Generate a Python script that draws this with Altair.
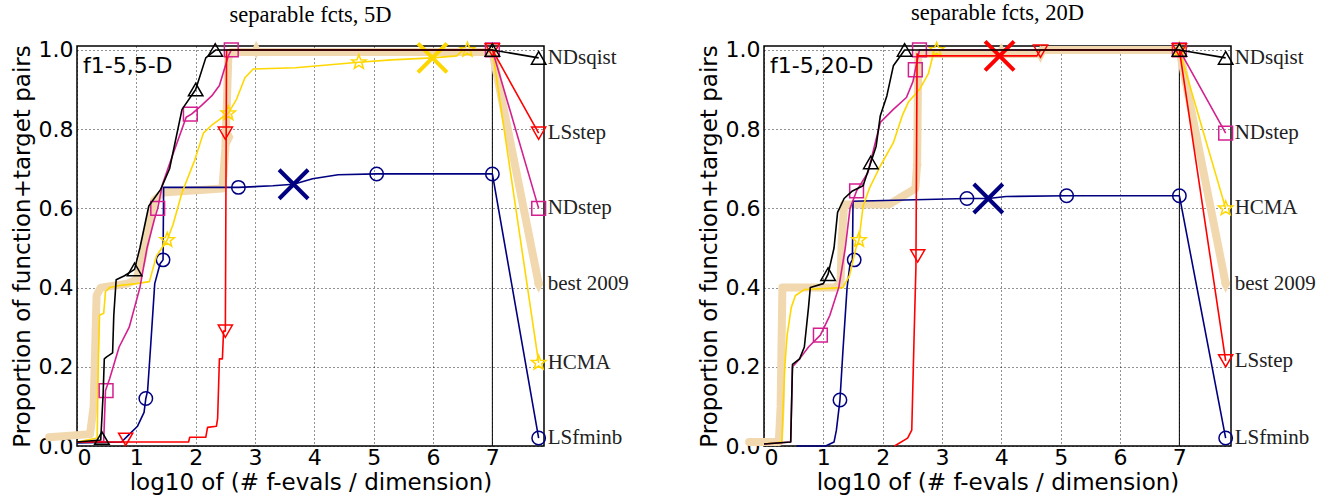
import math
import altair as alt
import pandas as pd

X_MAX = 7.87
Y_MAX = 1.01
LABEL_X = 7.78

PANEL_TITLES = ["separable fcts, 5D", "separable fcts, 20D"]
INSET_TEXTS = ["f1-5,5-D", "f1-5,20-D"]
X_TICKS = [0, 1, 2, 3, 4, 5, 6, 7]
Y_TICKS = [0.0, 0.2, 0.4, 0.6, 0.8, 1.0]

SERIES = ["best 2009", "LSfminb", "HCMA", "NDstep", "LSstep", "NDsqist"]
COLORS = ["#F2D8AE", "#000080", "#FFD700", "#D4208F", "#FF0000", "#000000"]

# ---------------- 5-D panel ----------------
BEST_5D_X = [-0.47, 0.22, 0.28, 0.33, 0.40, 0.85, 1.0, 1.1, 1.2, 1.3, 1.45, 2.45, 2.5, 2.55, 2.6, 7.0, LABEL_X]
BEST_5D_Y = [0.022, 0.03, 0.10, 0.38, 0.40, 0.41, 0.42, 0.47, 0.55, 0.62, 0.64, 0.65, 0.75, 0.98, 0.995, 0.995, 0.41]
BEST_5D_MX = [2.56, 3.02, LABEL_X]
BEST_5D_MY = [0.78, 1.0, 0.41]

LSF_5D_X = [0.0, 0.75, 0.85, 1.02, 1.13, 1.16, 1.19, 1.24, 1.31, 1.40, 1.45, 1.46, 2.72, 3.3, 3.65, 3.97, 4.4, 5.05, 7.0, LABEL_X]
LSF_5D_Y = [0.008, 0.01, 0.025, 0.05, 0.085, 0.12, 0.14, 0.25, 0.41, 0.46, 0.47, 0.653, 0.653, 0.657, 0.661, 0.675, 0.685, 0.687, 0.687, 0.02]
LSF_5D_MX = [1.16, 1.45, 2.72, 5.05, 7.0, LABEL_X]
LSF_5D_MY = [0.12, 0.47, 0.653, 0.687, 0.687, 0.02]
LSF_5D_XX = [3.65]
LSF_5D_XY = [0.661]

HCMA_5D_X = [0.0, 0.34, 0.36, 0.38, 0.45, 0.48, 0.55, 0.7, 1.0, 1.22, 1.34, 1.52, 1.62, 1.77, 1.98, 2.13, 2.27, 2.45, 2.55, 2.69, 2.83, 2.97, 3.68, 4.75, 5.3, 5.99, 6.4, 6.5, 7.0, LABEL_X]
HCMA_5D_Y = [0.01, 0.02, 0.22, 0.33, 0.335, 0.39, 0.40, 0.405, 0.41, 0.415, 0.48, 0.52, 0.56, 0.64, 0.72, 0.79, 0.81, 0.83, 0.84, 0.876, 0.93, 0.952, 0.955, 0.969, 0.975, 0.98, 0.985, 1.0, 1.0, 0.21]
HCMA_5D_MX = [1.52, 2.55, 4.75, 6.58, LABEL_X]
HCMA_5D_MY = [0.52, 0.84, 0.969, 1.0, 0.21]
HCMA_5D_XX = [5.99]
HCMA_5D_XY = [0.98]

NDS_5D_X = [0.0, 0.45, 0.48, 0.55, 0.71, 0.88, 1.06, 1.18, 1.30, 1.36, 1.44, 1.6, 1.84, 1.93, 2.1, 2.27, 2.4, 2.55, 2.6, 7.0, LABEL_X]
NDS_5D_Y = [0.01, 0.012, 0.14, 0.17, 0.25, 0.30, 0.40, 0.50, 0.57, 0.60, 0.66, 0.73, 0.83, 0.838, 0.86, 0.884, 0.91, 0.985, 1.0, 1.0, 0.60]
NDS_5D_MX = [0.49, 1.36, 1.91, 2.6, 7.0, LABEL_X]
NDS_5D_MY = [0.14, 0.60, 0.838, 1.0, 1.0, 0.60]

LSS_5D_X = [0.0, 1.88, 1.9, 2.17, 2.2, 2.35, 2.37, 2.4, 2.45, 2.47, 2.5, 2.52, 7.0, LABEL_X]
LSS_5D_Y = [0.01, 0.01, 0.022, 0.022, 0.047, 0.05, 0.07, 0.22, 0.22, 0.29, 0.29, 1.0, 1.0, 0.79]
LSS_5D_MX = [0.82, 2.5, 2.5, 7.0, LABEL_X]
LSS_5D_MY = [0.017, 0.29, 0.79, 1.0, 0.79]

NDQ_5D_X = [0.0, 0.40, 0.44, 0.46, 0.50, 0.60, 0.62, 0.66, 0.80, 0.97, 1.06, 1.21, 1.41, 1.56, 1.77, 2.0, 2.17, 2.34, 7.0, LABEL_X]
NDQ_5D_Y = [0.01, 0.015, 0.13, 0.22, 0.225, 0.235, 0.33, 0.42, 0.43, 0.446, 0.50, 0.606, 0.648, 0.70, 0.85, 0.90, 0.98, 1.0, 1.0, 0.98]
NDQ_5D_MX = [0.42, 0.97, 2.0, 2.33, 7.0, LABEL_X]
NDQ_5D_MY = [0.02, 0.446, 0.90, 1.0, 1.0, 0.98]

# ---------------- 20-D panel ----------------
BEST_20D_X = [-0.25, 0.25, 0.28, 0.31, 0.4, 1.18, 1.29, 1.31, 1.35, 2.11, 2.33, 2.55, 2.58, 2.6, 2.65, 4.6, 4.7, 7.0, LABEL_X]
BEST_20D_Y = [0.01, 0.01, 0.10, 0.40, 0.40, 0.40, 0.41, 0.52, 0.61, 0.61, 0.63, 0.65, 0.71, 0.99, 0.99, 0.99, 1.0, 1.0, 0.41]
BEST_20D_MX = [2.58, 4.0, 4.66, LABEL_X]
BEST_20D_MY = [0.71, 0.995, 0.99, 0.41]

LSF_20D_X = [0.55, 1.04, 1.18, 1.22, 1.28, 1.33, 1.40, 1.45, 1.49, 1.5, 3.42, 3.78, 4.08, 5.1, 7.0, LABEL_X]
LSF_20D_Y = [0.0, 0.0, 0.01, 0.04, 0.116, 0.24, 0.40, 0.46, 0.47, 0.618, 0.625, 0.625, 0.63, 0.632, 0.632, 0.02]
LSF_20D_MX = [1.28, 1.52, 3.42, 5.1, 7.0, LABEL_X]
LSF_20D_MY = [0.116, 0.47, 0.625, 0.632, 0.632, 0.02]
LSF_20D_XX = [3.78]
LSF_20D_XY = [0.625]

HCMA_20D_X = [0.0, 0.3, 0.35, 0.39, 0.46, 0.53, 0.68, 1.33, 1.44, 1.55, 1.6, 1.67, 1.78, 1.96, 2.18, 2.33, 2.44, 2.62, 2.77, 2.87, 7.0, LABEL_X]
HCMA_20D_Y = [0.005, 0.01, 0.2, 0.28, 0.35, 0.38, 0.395, 0.40, 0.43, 0.5, 0.52, 0.606, 0.652, 0.707, 0.766, 0.834, 0.87, 0.9, 0.94, 1.0, 1.0, 0.60]
HCMA_20D_MX = [1.6, 2.91, 7.0, LABEL_X]
HCMA_20D_MY = [0.52, 1.0, 1.0, 0.60]

NDS_20D_X = [0.0, 0.45, 0.48, 0.6, 0.75, 0.95, 1.11, 1.26, 1.37, 1.45, 1.56, 1.75, 1.96, 2.18, 2.4, 2.51, 2.55, 2.62, 7.0, LABEL_X]
NDS_20D_Y = [0.005, 0.01, 0.2, 0.22, 0.25, 0.28, 0.33, 0.40, 0.50, 0.60, 0.644, 0.69, 0.817, 0.85, 0.88, 0.92, 0.95, 1.0, 1.0, 0.79]
NDS_20D_MX = [0.95, 1.56, 2.55, 2.62, 7.0, LABEL_X]
NDS_20D_MY = [0.28, 0.644, 0.95, 1.0, 1.0, 0.79]

LSS_20D_X = [2.2, 2.42, 2.49, 2.53, 2.56, 2.58, 2.6, 4.6, 4.66, 7.0, LABEL_X]
LSS_20D_Y = [0.0, 0.02, 0.04, 0.28, 0.45, 0.99, 0.985, 0.985, 1.0, 1.0, 0.215]
LSS_20D_MX = [2.59, 4.66, 7.0, LABEL_X]
LSS_20D_MY = [0.48, 0.997, 1.0, 0.215]
LSS_20D_XX = [3.97]
LSS_20D_XY = [0.985]

NDQ_20D_X = [0.0, 0.45, 0.48, 0.6, 0.68, 0.75, 0.78, 1.0, 1.08, 1.18, 1.24, 1.35, 1.49, 1.67, 1.8, 1.89, 1.96, 2.07, 2.18, 2.37, 7.0, LABEL_X]
NDQ_20D_Y = [0.005, 0.01, 0.206, 0.22, 0.25, 0.35, 0.40, 0.41, 0.434, 0.50, 0.59, 0.625, 0.644, 0.657, 0.716, 0.757, 0.834, 0.884, 0.96, 1.0, 1.0, 0.98]
NDQ_20D_MX = [1.08, 1.8, 2.37, 7.0, LABEL_X]
NDQ_20D_MY = [0.434, 0.716, 1.0, 1.0, 0.98]

# label texts (name, label y) per panel
LABELS_5D = ["NDsqist", "LSstep", "NDstep", "best 2009", "HCMA", "LSfminb"]
LABELS_5D_Y = [0.98, 0.79, 0.60, 0.41, 0.21, 0.02]
LABELS_20D = ["NDsqist", "NDstep", "HCMA", "best 2009", "LSstep", "LSfminb"]
LABELS_20D_Y = [0.98, 0.79, 0.60, 0.41, 0.215, 0.02]

# ---------------- marker shapes ----------------
def star_path():
    pts = []
    for i in range(10):
        r = 1.0 if i % 2 == 0 else 0.42
        a = -math.pi / 2 + i * math.pi / 5
        pts.append(f"{r*math.cos(a):.3f},{r*math.sin(a):.3f}")
    return "M" + " L".join(pts) + " Z"

SHAPES = {
    "best 2009": "M0,-1.4 L0.7,0 L0,1.4 L-0.7,0 Z",
    "LSfminb": "circle",
    "HCMA": star_path(),
    "NDstep": "square",
    "LSstep": "triangle-down",
    "NDsqist": "triangle-up",
}
SIZES = {"best 2009": 170, "LSfminb": 180, "HCMA": 230, "NDstep": 190, "LSstep": 200, "NDsqist": 210}
X_SHAPE = "M-1,-1 L1,1 M-1,1 L1,-1"

XS = alt.Scale(domain=[0, X_MAX], nice=False, zero=False)
YS = alt.Scale(domain=[0, Y_MAX], nice=False, zero=False)
X_AX = alt.Axis(values=X_TICKS, format="d", title="log10 of (# f-evals / dimension)",
                labelPadding=1, titlePadding=3)
Y_AX = alt.Axis(values=Y_TICKS, format=".1f", title="Proportion of function+target pairs",
                labelPadding=4, titlePadding=4)


def enc_x():
    return alt.X("x:Q", scale=XS, axis=X_AX)


def enc_y():
    return alt.Y("y:Q", scale=YS, axis=Y_AX)


def make_panel(idx, curves, markers, crosses, labels, label_ys):
    layers = []
    # vertical line at x = 7
    layers.append(alt.Chart(pd.DataFrame({"x": [7.0]})).mark_rule(color="black", strokeWidth=1)
                  .encode(x=enc_x()))
    for name, color in zip(SERIES, COLORS):
        xs, ys = curves[name]
        df = pd.DataFrame({"x": xs, "y": ys, "i": list(range(len(xs)))})
        w = 8 if name == "best 2009" else 1.6
        layers.append(alt.Chart(df).mark_line(color=color, strokeWidth=w, strokeJoin="round",
                                              strokeCap="butt" if name != "best 2009" else "round")
                      .encode(x=enc_x(), y=enc_y(), order="i:Q"))
        mx, my = markers[name]
        mdf = pd.DataFrame({"x": mx, "y": my})
        filled = name == "best 2009"
        if filled:
            mk = alt.Chart(mdf).mark_point(shape=SHAPES[name], size=SIZES[name], filled=True,
                                           color=color, opacity=1)
        else:
            mk = alt.Chart(mdf).mark_point(shape=SHAPES[name], size=SIZES[name], filled=False,
                                           color=color, strokeWidth=1.5, opacity=1)
        layers.append(mk.encode(x=enc_x(), y=enc_y()))
        if name in crosses:
            cx, cy = crosses[name]
            layers.append(alt.Chart(pd.DataFrame({"x": cx, "y": cy}))
                          .mark_point(shape=X_SHAPE, size=841, filled=False, color=color,
                                      strokeWidth=4, opacity=1)
                          .encode(x=enc_x(), y=enc_y()))
    ldf = pd.DataFrame({"x": [LABEL_X] * len(labels), "y": label_ys, "t": labels})
    layers.append(alt.Chart(ldf).mark_text(align="left", baseline="middle", dx=9,
                                           font="Liberation Serif", fontSize=21, color="#222222")
                  .encode(x=enc_x(), y=enc_y(), text="t:N"))
    layers.append(alt.Chart(pd.DataFrame({"t": [INSET_TEXTS[idx]]}))
                  .mark_text(align="left", baseline="alphabetic", font="DejaVu Sans", fontSize=22,
                             color="black")
                  .encode(x=alt.value(6), y=alt.value(27), text="t:N"))
    return alt.layer(*layers).properties(
        width=467, height=400,
        title=alt.TitleParams(PANEL_TITLES[idx], font="Liberation Serif", fontSize=22.5,
                              fontWeight="normal", offset=9, color="black"))


curves_5 = {
    "best 2009": (BEST_5D_X, BEST_5D_Y), "LSfminb": (LSF_5D_X, LSF_5D_Y),
    "HCMA": (HCMA_5D_X, HCMA_5D_Y), "NDstep": (NDS_5D_X, NDS_5D_Y),
    "LSstep": (LSS_5D_X, LSS_5D_Y), "NDsqist": (NDQ_5D_X, NDQ_5D_Y),
}
markers_5 = {
    "best 2009": (BEST_5D_MX, BEST_5D_MY), "LSfminb": (LSF_5D_MX, LSF_5D_MY),
    "HCMA": (HCMA_5D_MX, HCMA_5D_MY), "NDstep": (NDS_5D_MX, NDS_5D_MY),
    "LSstep": (LSS_5D_MX, LSS_5D_MY), "NDsqist": (NDQ_5D_MX, NDQ_5D_MY),
}
crosses_5 = {"LSfminb": (LSF_5D_XX, LSF_5D_XY), "HCMA": (HCMA_5D_XX, HCMA_5D_XY)}

curves_20 = {
    "best 2009": (BEST_20D_X, BEST_20D_Y), "LSfminb": (LSF_20D_X, LSF_20D_Y),
    "HCMA": (HCMA_20D_X, HCMA_20D_Y), "NDstep": (NDS_20D_X, NDS_20D_Y),
    "LSstep": (LSS_20D_X, LSS_20D_Y), "NDsqist": (NDQ_20D_X, NDQ_20D_Y),
}
markers_20 = {
    "best 2009": (BEST_20D_MX, BEST_20D_MY), "LSfminb": (LSF_20D_MX, LSF_20D_MY),
    "HCMA": (HCMA_20D_MX, HCMA_20D_MY), "NDstep": (NDS_20D_MX, NDS_20D_MY),
    "LSstep": (LSS_20D_MX, LSS_20D_MY), "NDsqist": (NDQ_20D_MX, NDQ_20D_MY),
}
crosses_20 = {"LSfminb": (LSF_20D_XX, LSF_20D_XY), "LSstep": (LSS_20D_XX, LSS_20D_XY)}

left = make_panel(0, curves_5, markers_5, crosses_5, LABELS_5D, LABELS_5D_Y)
right = make_panel(1, curves_20, markers_20, crosses_20, LABELS_20D, LABELS_20D_Y)

chart = alt.hconcat(left, right, spacing=220, bounds="flush").properties(
    padding={"left": 10, "top": 1, "right": 0, "bottom": 0}
).configure_view(stroke="black", strokeWidth=1.5).configure_axis(
    labelFont="DejaVu Sans", labelFontSize=22, labelColor="black",
    titleFont="DejaVu Sans", titleFontSize=23, titleFontWeight="normal", titleColor="black",
    domain=False, ticks=False, grid=True, gridColor="black", gridDash=[1, 3],
    gridOpacity=0.85, gridWidth=1,
).configure_title(font="Liberation Serif", fontSize=22.5, fontWeight="normal", color="black")

chart.save("out.html", embed_options={"renderer": "svg", "actions": False})
